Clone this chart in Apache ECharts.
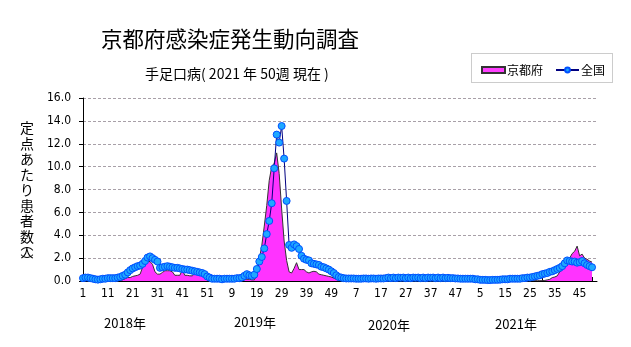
<!DOCTYPE html>
<html><head><meta charset="utf-8">
<script src="https://cdn.jsdelivr.net/npm/echarts@6/dist/echarts.min.js"></script>
<style>html,body{margin:0;padding:0;background:#fff;}#c{width:631px;height:347px;}</style>
</head><body><div id="c"></div>
<script>
// weeks per year shown on the axis
const years = ['2018年', '2019年', '2020年', '2021年'];
const weeksPerYear = [52, 52, 52, 52];
const yTicks = [0, 2, 4, 6, 8, 10, 12, 14, 16];

// 京都府 (Kyoto) per-sentinel values
const kyoto2018 = [0.1,0.1,0.1,0.1,0.05,0.05,0.05,0.05,0.05,0.05,0.05,0.05,0.05,0.05,0.05,0.05,0.1,0.2,0.3,0.3,0.4,0.45,0.5,0.6,1.2,1.6,1.7,1.7,1.45,0.8,0.6,0.6,0.75,0.9,0.9,0.9,0.8,0.5,0.5,0.5,0.95,0.5,0.5,0.45,0.45,0.65,0.6,0.5,0.5,0.35,0.2,0.1];
const kyoto2019 = [0.05,0.05,0.05,0.05,0.05,0.05,0.05,0.05,0.05,0.05,0.05,0.05,0.1,0.15,0.15,0.15,0.1,0.1,0.5,1.9,3.1,4.8,6.6,8.8,10.0,10.3,11.2,9.4,6.3,3.5,1.8,0.8,0.7,1.1,1.6,1.0,1.0,1.0,0.8,0.7,0.8,0.85,0.8,0.6,0.55,0.5,0.45,0.4,0.35,0.25,0.15,0.05];
const kyoto2020 = [0.05,0.05,0.05,0.03,0.03,0.03,0.03,0.03,0.03,0.03,0.03,0.03,0.03,0.03,0.03,0.03,0.03,0.03,0.03,0.03,0.03,0.03,0.03,0.03,0.03,0.03,0.03,0.03,0.03,0.03,0.03,0.03,0.03,0.03,0.03,0.03,0.03,0.03,0.03,0.03,0.03,0.03,0.03,0.03,0.03,0.03,0.03,0.03,0.03,0.03,0.03,0.03];
const kyoto2021 = [0.03,0.03,0.03,0.03,0.03,0.03,0.03,0.03,0.03,0.03,0.03,0.03,0.03,0.03,0.03,0.03,0.03,0.03,0.03,0.03,0.03,0.03,0.03,0.03,0.03,0.03,0.03,0.03,0.03,0.03,0.05,0.1,0.15,0.3,0.35,0.45,0.8,0.95,1.3,1.6,2.0,2.4,2.6,3.05,2.2,2.35,2.0,1.9,1.75,1.65];

// 全国 (national) per-sentinel values
const nation2018 = [0.25,0.3,0.3,0.25,0.2,0.15,0.12,0.15,0.2,0.2,0.25,0.25,0.25,0.25,0.3,0.35,0.45,0.55,0.75,0.95,1.1,1.2,1.3,1.35,1.5,1.75,2.05,2.15,2.0,1.85,1.7,1.15,1.2,1.25,1.3,1.25,1.2,1.15,1.15,1.1,1.05,1.0,1.0,0.95,0.9,0.85,0.8,0.75,0.7,0.6,0.4,0.3];
const nation2019 = [0.2,0.2,0.2,0.2,0.15,0.2,0.2,0.2,0.2,0.2,0.25,0.25,0.3,0.45,0.6,0.5,0.45,0.55,1.05,1.7,2.1,2.85,4.1,5.25,6.8,9.85,12.8,12.1,13.55,10.7,7.0,3.15,2.9,3.2,3.05,2.8,2.2,1.95,1.85,1.8,1.55,1.5,1.45,1.4,1.25,1.2,1.1,1.0,0.85,0.7,0.5,0.35];
const nation2020 = [0.3,0.25,0.22,0.22,0.22,0.22,0.2,0.2,0.2,0.22,0.22,0.2,0.22,0.22,0.2,0.22,0.22,0.22,0.25,0.3,0.25,0.3,0.25,0.3,0.28,0.3,0.25,0.3,0.25,0.3,0.28,0.3,0.25,0.3,0.25,0.3,0.28,0.3,0.25,0.3,0.25,0.3,0.25,0.28,0.25,0.25,0.22,0.22,0.2,0.2,0.2,0.2];
const nation2021 = [0.2,0.2,0.15,0.15,0.1,0.1,0.1,0.08,0.08,0.1,0.1,0.1,0.12,0.15,0.15,0.15,0.2,0.2,0.2,0.2,0.2,0.25,0.25,0.3,0.3,0.35,0.4,0.45,0.5,0.6,0.65,0.7,0.8,0.85,0.95,1.05,1.15,1.3,1.55,1.8,1.75,1.7,1.7,1.6,1.65,1.75,1.55,1.4,1.3,1.2];

function pad(arr, n) { const a = arr.slice(); while (a.length < n) a.push(null); return a; }
const categories = [];
weeksPerYear.forEach(n => { for (let w = 1; w <= n; w++) categories.push(String(w)); });
const kyoto = [].concat(pad(kyoto2018,52), pad(kyoto2019,52), pad(kyoto2020,52), pad(kyoto2021,52));
const nation = [].concat(pad(nation2018,52), pad(nation2019,52), pad(nation2020,52), pad(nation2021,52));

const narrow = "'Liberation Sans Narrow','DejaVu Sans Condensed',sans-serif";
const jp = "'Noto Sans CJK JP',sans-serif";

const chart = echarts.init(document.getElementById('c'), null, {renderer: 'canvas'});
chart.setOption({
  animation: false,
  backgroundColor: '#fff',
  grid: {left: 83, right: 34, top: 98, bottom: 66},
  xAxis: {
    type: 'category', data: categories, boundaryGap: false,
    axisLine: {lineStyle: {color: '#000', width: 1}},
    axisTick: {show: true, inside: true, interval: 4, length: 4, lineStyle: {color: '#000'}},
    axisLabel: {interval: 9, color: '#000', fontFamily: narrow, fontSize: 12, margin: 7},
    splitLine: {show: false}
  },
  yAxis: {
    type: 'value', min: yTicks[0], max: yTicks[yTicks.length - 1], interval: 2,
    axisLine: {show: true, lineStyle: {color: '#000', width: 1}},
    axisTick: {show: true, length: 4, lineStyle: {color: '#000'}},
    axisLabel: {color: '#000', fontFamily: narrow, fontSize: 12, margin: 12, formatter: v => v.toFixed(1)},
    splitLine: {show: true, lineStyle: {color: '#a8a0a8', type: [3, 2], width: 1}}
  },
  legend: {
    left: 476, top: 59, itemWidth: 23, itemHeight: 6, itemGap: 12,
    textStyle: {fontFamily: jp, fontSize: 12, color: '#000', padding: [0, 0, 0, -3]},
    data: [{name: '京都府', icon: 'rect'}, {name: '全国'}]
  },
  series: [
    {
      name: '京都府', type: 'line', data: kyoto, symbol: 'none', z: 2,
      lineStyle: {color: '#333', width: 1},
      itemStyle: {color: '#ff40ff', borderColor: '#333', borderWidth: 1},
      areaStyle: {color: '#ff33ff', opacity: 1}
    },
    {
      name: '全国', type: 'line', data: nation, z: 3,
      symbol: 'circle', symbolSize: 7, showAllSymbol: true,
      lineStyle: {color: '#000080', width: 1},
      itemStyle: {color: '#1ea8ff', borderColor: '#0050ff', borderWidth: 1}
    }
  ],
  graphic: [
    {type: 'text', left: 101, top: 28, style: {text: '京都府感染症発生動向調査', font: '21.5px ' + jp, fill: '#000'}},
    {type: 'text', left: 145, top: 67, style: {text: '手足口病( 2021 年 50週 現在 )', font: '14px ' + jp, fill: '#000'}},
    {type: 'rect', shape: {x: 471.5, y: 53.5, width: 141, height: 29}, style: {fill: 'none', stroke: '#999', lineWidth: 1, lineDash: [1, 1]}},
    {type: 'text', x: 27, y: 120, style: {text: '定\n点\nあ\nた\nり\n患\n者\n数', font: '14px ' + jp, lineHeight: 15.5, align: 'center', fill: '#000'}},
    {type: 'text', x: 27, y: 240, style: {text: '︵\n人\n︶', font: '13px ' + jp, lineHeight: 8, align: 'center', fill: '#000'}},
    {type: 'text', x: 125, y: 323, style: {text: years[0], font: '13px ' + jp, align: 'center', verticalAlign: 'middle', fill: '#000'}},
    {type: 'text', x: 255, y: 322, style: {text: years[1], font: '13px ' + jp, align: 'center', verticalAlign: 'middle', fill: '#000'}},
    {type: 'text', x: 389, y: 325, style: {text: years[2], font: '13px ' + jp, align: 'center', verticalAlign: 'middle', fill: '#000'}},
    {type: 'text', x: 516, y: 324, style: {text: years[3], font: '13px ' + jp, align: 'center', verticalAlign: 'middle', fill: '#000'}}
  ]
});
</script></body></html>
